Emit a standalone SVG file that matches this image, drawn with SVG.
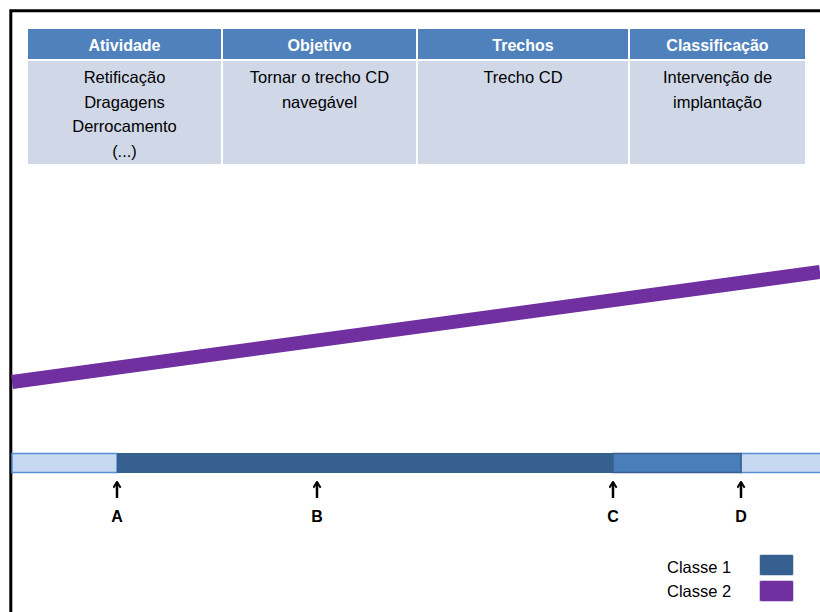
<svg xmlns="http://www.w3.org/2000/svg" width="820" height="612" viewBox="0 0 820 612">
<defs>
<style>
.hd{fill:#4f81bd}
.bd{fill:#d0d8e8}
.ht{font-family:"Liberation Sans",Arial,sans-serif;font-weight:bold;font-size:16px;fill:#fff;text-anchor:middle}
.bt{font-family:"Liberation Sans",Arial,sans-serif;font-size:16.5px;fill:#000;text-anchor:middle}
.lb{font-family:"Liberation Sans",Arial,sans-serif;font-weight:bold;font-size:16px;fill:#000;text-anchor:middle}
.lg{font-family:"Liberation Sans",Arial,sans-serif;font-size:16.5px;fill:#000}
.arr{stroke:#000;stroke-width:2.5;fill:none;marker-end:url(#ah)}
</style>
<marker id="ah" viewBox="0 0 10 10" refX="8.5" refY="5" markerWidth="9" markerHeight="9" orient="auto" markerUnits="userSpaceOnUse">
<path d="M2,1 L8.5,5 L2,9" fill="none" stroke="#000" stroke-width="2.2"/>
</marker>
</defs>
<rect width="820" height="612" fill="#fff"/>
<g id="frame">
<path d="M10.8,612 V10.8 H820" fill="none" stroke="#000" stroke-width="3"/>
</g>
<g id="table">
<rect class="hd" x="28" y="29" width="193" height="30"/>
<rect class="hd" x="223" y="29" width="193" height="30"/>
<rect class="hd" x="418" y="29" width="210" height="30"/>
<rect class="hd" x="630" y="29" width="175" height="30"/>
<rect class="bd" x="28" y="61" width="193" height="103"/>
<rect class="bd" x="223" y="61" width="193" height="103"/>
<rect class="bd" x="418" y="61" width="210" height="103"/>
<rect class="bd" x="630" y="61" width="175" height="103"/>
<text class="ht" x="124.5" y="51">Atividade</text>
<text class="ht" x="319.5" y="51">Objetivo</text>
<text class="ht" x="523" y="51">Trechos</text>
<text class="ht" x="717.5" y="51">Classificação</text>
<text class="bt" x="124.5" y="83">Retificação</text>
<text class="bt" x="124.5" y="108">Dragagens</text>
<text class="bt" x="124.5" y="132">Derrocamento</text>
<text class="bt" x="124.5" y="157">(...)</text>
<text class="bt" x="319.5" y="83">Tornar o trecho CD</text>
<text class="bt" x="319.5" y="108">navegável</text>
<text class="bt" x="523" y="83">Trecho CD</text>
<text class="bt" x="717.5" y="83">Intervenção de</text>
<text class="bt" x="717.5" y="108">implantação</text>
</g>
<g id="classe2-line">
<line x1="12" y1="382" x2="820" y2="272" stroke="#7030a0" stroke-width="14"/>
</g>
<g id="bar">
<rect x="12" y="453.5" width="105" height="19" fill="#c6d9f1" stroke="#558ed5" stroke-width="1.5"/>
<rect x="741" y="453.5" width="80" height="19" fill="#c6d9f1" stroke="#558ed5" stroke-width="1.5"/>
<rect x="117" y="453" width="496" height="20" fill="#36608f"/>
<rect x="613" y="453.5" width="128" height="19" fill="#4a7ebb" stroke="#3a5f8f" stroke-width="1.5"/>
</g>
<g id="connectors">
<line class="arr" x1="117" y1="498" x2="117" y2="482"/>
<line class="arr" x1="317" y1="498" x2="317" y2="482"/>
<line class="arr" x1="613" y1="498" x2="613" y2="482"/>
<line class="arr" x1="741" y1="498" x2="741" y2="482"/>
</g>
<g id="labels">
<text class="lb" x="117" y="522">A</text>
<text class="lb" x="317" y="522">B</text>
<text class="lb" x="613" y="522">C</text>
<text class="lb" x="741" y="522">D</text>
</g>
<g id="legend">
<text class="lg" x="667" y="573">Classe 1</text>
<text class="lg" x="667" y="597">Classe 2</text>
<rect x="759.5" y="554.5" width="34" height="21" rx="1.5" fill="#36608f" stroke="#d0d8e8" stroke-width="1"/>
<rect x="759.5" y="580.5" width="34" height="21" rx="1.5" fill="#7030a0" stroke="#d8c8e8" stroke-width="1"/>
</g>
</svg>
